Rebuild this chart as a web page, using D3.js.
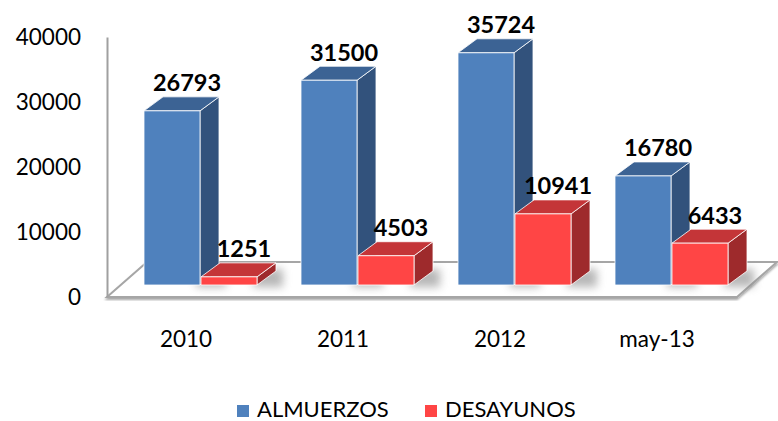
<!DOCTYPE html>
<html>
<head>
<meta charset="utf-8">
<script src="https://cdn.jsdelivr.net/npm/d3@7"></script>
<style>
  body { margin: 0; background: #fff; }
  svg { display: block; font-family: Lato, "Open Sans", sans-serif; }
</style>
</head>
<body>
<svg id="chart" width="778" height="421"></svg>
<script>
// ── Data ──────────────────────────────────────────────────────────────────────
const categories = ["2010", "2011", "2012", "may-13"];
const almuerzos = [26793, 31500, 35724, 16780];
const desayunos = [1251, 4503, 10941, 6433];
const yTicks = [0, 10000, 20000, 30000, 40000];
const seriesNames = ["ALMUERZOS", "DESAYUNOS"];

const palette = [
  { front: "#4F81BD", top: "#3C6394", side: "#32527C" },
  { front: "#FF4545", top: "#C43538", side: "#9E2A2C" },
];

// ── Layout ────────────────────────────────────────────────────────────────────
const svg = d3.select("#chart");
const axisX = 107, floorY = 297, floorDx = 40, floorDy = -35;
const floorRight = 737;
const depthX = 19, depthY = -14;      // bar depth
const barInset = -12;                 // bars stand a bit behind the front edge
const barW = 56;

const y = d3.scaleLinear().domain([0, 40000]).range([floorY, 37]);
const x = d3.scaleBand().domain(categories).range([123, 123 + 157 * 4]);

const defs = svg.append("defs");
defs.append("filter").attr("id", "blur")
  .attr("x", "-50%").attr("y", "-50%").attr("width", "200%").attr("height", "200%")
  .append("feGaussianBlur").attr("stdDeviation", 4);
defs.append("filter").attr("id", "floorShadow")
  .append("feDropShadow").attr("dx", 0).attr("dy", 2).attr("stdDeviation", 1)
  .attr("flood-color", "#000").attr("flood-opacity", 0.35);

// ── Floor ─────────────────────────────────────────────────────────────────────
svg.append("polygon")
  .attr("points", [
    [axisX, floorY], [floorRight, floorY],
    [floorRight + floorDx, floorY + floorDy], [axisX + floorDx, floorY + floorDy],
  ].join(" "))
  .attr("fill", "#fff")
  .attr("stroke", "#A6A6A6")
  .attr("stroke-width", 2)
  .attr("filter", "url(#floorShadow)");

// ── Axis ──────────────────────────────────────────────────────────────────────
const axis = svg.append("g")
  .attr("transform", `translate(${axisX},0)`)
  .call(d3.axisLeft(y).tickValues(yTicks).tickSize(0).tickPadding(26).tickFormat(d3.format("d")));
axis.select(".domain").attr("stroke", "#A0A0A0").attr("stroke-width", 2);
axis.selectAll("text")
  .attr("font-size", "22.5px").attr("font-family", "Lato, sans-serif").attr("fill", "#000");

// ── Bars ──────────────────────────────────────────────────────────────────────
const series = [almuerzos, desayunos];
const base = floorY + barInset;

// shadows first
series.forEach((vals, s) => {
  svg.append("g").selectAll("rect")
    .data(categories)
    .join("rect")
    .attr("x", (c) => x(c) + 21 + s * 57 + barW - 4)
    .attr("y", base - 16)
    .attr("width", 30)
    .attr("height", 18)
    .attr("fill", "#888")
    .attr("opacity", 0.6)
    .attr("filter", "url(#blur)");
});

categories.forEach((c, i) => {
  series.forEach((vals, s) => {
    const x0 = x(c) + 21 + s * 57;
    const yt = y(vals[i]) + barInset;
    const col = palette[s];
    const g = svg.append("g").attr("stroke", "#fff").attr("stroke-opacity", 0.8)
      .attr("stroke-width", 1).attr("stroke-linejoin", "round");
    g.append("polygon")
      .attr("points", [[x0 + barW, yt], [x0 + barW + depthX, yt + depthY],
        [x0 + barW + depthX, base + depthY], [x0 + barW, base]].join(" "))
      .attr("fill", col.side);
    g.append("polygon")
      .attr("points", [[x0, yt], [x0 + barW, yt], [x0 + barW + depthX, yt + depthY],
        [x0 + depthX, yt + depthY]].join(" "))
      .attr("fill", col.top);
    g.append("rect")
      .attr("x", x0).attr("y", yt)
      .attr("width", barW).attr("height", base - yt)
      .attr("fill", col.front);
  });
});

// ── Value labels ──────────────────────────────────────────────────────────────
series.forEach((vals, s) => {
  svg.append("g").selectAll("text")
    .data(categories)
    .join("text")
    .attr("x", (c) => x(c) + 21 + s * 57 + barW / 2 + 15)
    .attr("y", (c, i) => y(vals[i]) + barInset + depthY - 5.5)
    .attr("text-anchor", "middle")
    .attr("font-size", "23.5px")
    .attr("font-weight", "bold")
    .attr("fill", "#000")
    .text((c, i) => vals[i]);
});

// ── Category labels ───────────────────────────────────────────────────────────
svg.append("g").selectAll("text")
  .data(categories)
  .join("text")
  .attr("x", (c) => x(c) + 63)
  .attr("y", 347)
  .attr("text-anchor", "middle")
  .attr("font-size", "22.5px")
  .attr("fill", "#000")
  .text((c) => c);

// ── Legend ────────────────────────────────────────────────────────────────────
const legendX = [237, 425];
const legend = svg.append("g").selectAll("g")
  .data(seriesNames)
  .join("g")
  .attr("transform", (d, i) => `translate(${legendX[i]},405)`);
legend.append("rect").attr("width", 12).attr("height", 12)
  .attr("fill", (d, i) => palette[i].front);
legend.append("text").attr("x", 20).attr("y", 11.5)
  .attr("font-size", "22px").attr("fill", "#000")
  .text((d) => d);
</script>
</body>
</html>
